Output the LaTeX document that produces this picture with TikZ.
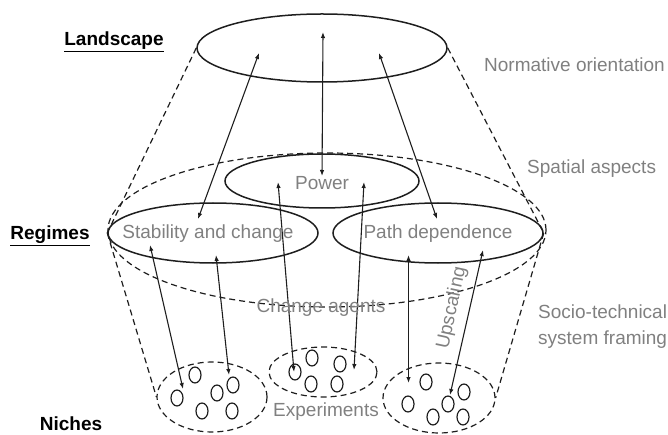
\documentclass[tikz,border=0pt]{standalone}
\usepackage{fontspec}
\setmainfont{Liberation Sans}
\usetikzlibrary{shapes.geometric,arrows.meta}
\definecolor{txtgray}{RGB}{128,128,128}
\definecolor{ink}{RGB}{30,30,30}
\begin{document}
\begin{tikzpicture}[x=1pt,y=-1pt,
  solidell/.style={draw=ink, ellipse, line width=1.5pt, inner sep=0pt},
  dashell/.style={draw=ink, ellipse, line width=1.2pt, inner sep=0pt, dash pattern=on 6pt off 4pt},
  dashln/.style={draw=ink, line width=1.2pt, dash pattern=on 6pt off 4pt},
  dot/.style={draw=ink, ellipse, line width=1.2pt, inner sep=0pt, minimum width=12pt, minimum height=16pt},
  link/.style={draw=ink, line width=1.1pt, {Latex[length=6pt,width=4.5pt]}-{Latex[length=6pt,width=4.5pt]}},
  gtext/.style={text=txtgray, font=\fontsize{19}{22}\selectfont, inner sep=0pt},
  btext/.style={text=black, font=\fontsize{19}{22}\selectfont\bfseries, inner sep=0pt}
]
\useasboundingbox (0,0) rectangle (668,435);

% ellipses
\node[solidell, minimum width=250pt, minimum height=68pt] (land) at (322,48) {};
\node[dashell, minimum width=438pt, minimum height=154pt] (big) at (327,230) {};
\node[solidell, minimum width=194pt, minimum height=54pt] (power) at (322,181) {};
\node[solidell, minimum width=210pt, minimum height=60pt] (stab) at (213,233) {};
\node[solidell, minimum width=210pt, minimum height=60pt] (path) at (438,233) {};
\node[dashell, minimum width=110pt, minimum height=70pt] (nicheL) at (212,397) {};
\node[dashell, minimum width=108pt, minimum height=50pt] (nicheM) at (323,372) {};
\node[dashell, minimum width=112pt, minimum height=70pt] (nicheR) at (439,398) {};

% cone lines
\draw[dashln] (land.west) -- (stab.west);
\draw[dashln] (land.east) -- (path.east);
\draw[dashln] (stab.west) -- (nicheL.west);
\draw[dashln] (path.east) -- (nicheR.east);

% small circles
\foreach \n/\p in {l1/{(195,375)}, l2/{(177,398)}, l3/{(217,393)}, l4/{(233,385)}, l5/{(202,411)}, l6/{(232,411)},
                   m1/{(312,358)}, m2/{(340,364)}, m3/{(295,372)}, m4/{(311,384)}, m5/{(337,384)},
                   r1/{(426,382)}, r2/{(408,404)}, r3/{(464,392)}, r4/{(448,404)}, r5/{(433,417)}, r6/{(463,417)}}
  \node[dot] (\n) at \p {};

% arrow end points
\coordinate (a1) at (323,32);  \coordinate (b1) at (322,176);
\coordinate (a2) at (259,53);  \coordinate (b2) at (198,219);
\coordinate (a3) at (379,53);  \coordinate (b3) at (437,219);
\coordinate (a4) at (150,245); \coordinate (b4) at (183,389);
\coordinate (a5) at (216,255); \coordinate (b5) at (229,375);
\coordinate (a6) at (278,182); \coordinate (b6) at (294,372);
\coordinate (a7) at (364,182); \coordinate (b7) at (354,370);
\coordinate (a8) at (408.5,255); \coordinate (b8) at (408.5,383);
\coordinate (a9) at (483,250); \coordinate (b9) at (450,395);
\foreach \i in {1,...,9} \draw[link] (a\i) -- (b\i);

% texts
\node[gtext] (tpow) at (322,183) {Power};
\node[gtext] (tstab) at (208,234) {Stability and change};
\node[gtext] (tpath) at (438,234) {Path dependence};
\node[gtext] (tchg) at (321,308) {Change agents};
\node[gtext] (texp) at (326,412) {Experiments};
\node[gtext, rotate=78] (tup) at (452,308) {Upscaling};
\node[gtext, anchor=west] (tnorm) at (484,65) {Normative orientation};
\node[gtext, anchor=west] (tspat) at (527,169) {Spatial aspects};
\node[gtext, anchor=west] (tsoc1) at (538,312) {Socio-technical};
\node[gtext, anchor=west] (tsoc2) at (538,340) {system framing};
\node[btext] (tland) at (114,42) {\underline{Landscape}};
\node[btext] (treg) at (50,236) {\underline{Regimes}};
\node[btext] (tnic) at (71,424) {Niches};
\end{tikzpicture}
\end{document}
